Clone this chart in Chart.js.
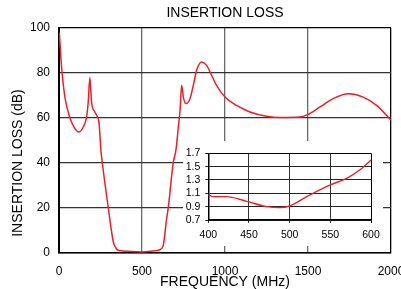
<!DOCTYPE html>
<html>
<head>
<meta charset="utf-8">
<script src="https://cdn.jsdelivr.net/npm/chart.js@4/dist/chart.umd.min.js"></script>
<style>
    body { margin: 0; background: #fff; }
    #wrap { position: relative; width: 401px; height: 289px; }
    #mainChart { position: absolute; left: 0; top: 0; }
    #insetChart { position: absolute; left: 183px; top: 141px; background: #fff; }
</style>
</head>
<body>
<div id="wrap">
    <canvas id="mainChart" width="401" height="289"></canvas>
    <canvas id="insetChart" width="200" height="105"></canvas>
</div>
<script>
var chartTitle = "INSERTION LOSS";
var xTitle = "FREQUENCY (MHz)";
var yTitle = "INSERTION LOSS (dB)";

// main sweep
var freqMHz = [2, 12, 20, 36, 66, 96, 120, 146, 166, 176, 186, 196, 216, 232, 240, 246, 252, 261, 297, 327, 345, 357, 408, 500, 580, 608, 628, 648, 658, 688, 705, 719, 729, 739, 749, 765, 789, 809, 829, 859, 889, 919, 949, 1000, 1070, 1150, 1250, 1331, 1451, 1500, 1572, 1652, 1742, 1833, 1913, 2000];
var lossDb = [98, 86, 79, 69, 60, 55.3, 53.8, 56, 60.4, 67, 78, 67, 62.7, 60.4, 58.5, 53, 46, 40, 20, 5, 2, 1.2, 0.8, 0.5, 1, 1.5, 3.4, 15, 20, 40, 46, 56, 63.4, 74.5, 69.3, 66.4, 68.6, 74.5, 81.2, 84.9, 83.4, 79, 74.5, 69.3, 65.6, 62.7, 60.8, 60.2, 60.4, 61.6, 64.9, 68.6, 70.8, 69.3, 65.6, 59];
var xTicks = [0, 500, 1000, 1500, 2000];
var yTicks = [0, 20, 40, 60, 80, 100];

// passband zoom
var insetFreq = [400, 406, 422, 447, 472, 488, 500, 521, 550, 570, 586, 600];
var insetLoss = [1.075, 1.05, 1.05, 0.98, 0.9, 0.885, 0.91, 1.05, 1.225, 1.325, 1.45, 1.6];
var insetXTicks = [400, 450, 500, 550, 600];
var insetYTicks = [0.7, 0.9, 1.1, 1.3, 1.5, 1.7];

var fontFamily = "'Liberation Sans', Arial, Helvetica, sans-serif";
var lineRed = "#e8202a";

function toPoints(xs, ys) {
    var pts = [];
    for (var i = 0; i < xs.length; i++) {
        pts.push({ x: xs[i], y: ys[i] });
    }
    return pts;
}

function fixedTicks(values) {
    return function (scale) {
        scale.ticks = values.map(function (v) { return { value: v }; });
    };
}

function plainLabel(v) {
    return String(v);
}

var yTitlePlugin = {
    id: "yTitle",
    afterDraw: function (chart) {
        var ctx = chart.ctx;
        ctx.save();
        ctx.translate(18, 163);
        ctx.rotate(-Math.PI / 2);
        ctx.font = "14px " + fontFamily;
        ctx.fillStyle = "#000";
        ctx.textAlign = "center";
        ctx.textBaseline = "middle";
        ctx.fillText(yTitle, 0, 0);
        ctx.restore();
    }
};

function CreateMainChart() {
    var context = document.getElementById("mainChart");
    return new Chart(context, {
        type: "line",
        data: {
            datasets: [{
                data: toPoints(freqMHz, lossDb),
                borderColor: lineRed,
                borderWidth: 1.5,
                pointRadius: 0,
                cubicInterpolationMode: "monotone",
                fill: false
            }]
        },
        options: {
            responsive: false,
            animation: false,
            layout: { padding: { left: 0, right: 10, top: 0, bottom: 0 } },
            plugins: {
                legend: { display: false },
                tooltip: { enabled: false },
                title: {
                    display: true,
                    text: chartTitle,
                    fullSize: false,
                    color: "#000",
                    font: { family: fontFamily, size: 14, weight: "normal" },
                    padding: { top: 5, bottom: 6.2 }
                }
            },
            scales: {
                x: {
                    type: "linear",
                    min: 0,
                    max: 2000,
                    afterBuildTicks: fixedTicks(xTicks),
                    afterFit: function (s) {
                        s.height = 36;
                        s.paddingLeft = 0;
                        s.paddingRight = 0;
                    },
                    grid: {
                        drawTicks: false,
                        lineWidth: 1.3,
                        color: function (c) { return c.tick && c.tick.value === 2000 ? "#000" : "#6a6a6a"; }
                    },
                    border: { color: "#000", width: 1.5 },
                    ticks: {
                        color: "#000",
                        padding: 11,
                        maxRotation: 0,
                        autoSkip: false,
                        font: { family: fontFamily, size: 12 },
                        callback: plainLabel
                    },
                    title: {
                        display: true,
                        text: xTitle,
                        color: "#000",
                        font: { family: fontFamily, size: 14, lineHeight: 1 },
                        padding: 0
                    }
                },
                y: {
                    min: 0,
                    max: 100,
                    afterBuildTicks: fixedTicks(yTicks),
                    afterFit: function (s) {
                        s.width = 59;
                        s.paddingTop = 0;
                        s.paddingBottom = 0;
                    },
                    grid: {
                        drawTicks: false,
                        lineWidth: 1.3,
                        color: function (c) { return c.tick && c.tick.value === 100 ? "#000" : "#333"; }
                    },
                    border: { color: "#000", width: 2 },
                    ticks: {
                        color: "#000",
                        padding: 9,
                        autoSkip: false,
                        font: { family: fontFamily, size: 12 },
                        callback: plainLabel
                    }
                }
            }
        },
        plugins: [yTitlePlugin]
    });
}

function CreateInsetChart() {
    var context = document.getElementById("insetChart");
    return new Chart(context, {
        type: "line",
        data: {
            datasets: [{
                data: toPoints(insetFreq, insetLoss),
                borderColor: lineRed,
                borderWidth: 1.4,
                pointRadius: 0,
                cubicInterpolationMode: "monotone",
                fill: false
            }]
        },
        options: {
            responsive: false,
            animation: false,
            layout: { padding: { left: 0, right: 12, top: 12.3, bottom: 0 } },
            plugins: {
                legend: { display: false },
                tooltip: { enabled: false },
                title: { display: false }
            },
            scales: {
                x: {
                    type: "linear",
                    min: 400,
                    max: 600,
                    afterBuildTicks: fixedTicks(insetXTicks),
                    afterFit: function (s) {
                        s.height = 26;
                        s.paddingLeft = 0;
                        s.paddingRight = 0;
                    },
                    grid: {
                        tickLength: 3,
                        lineWidth: 1,
                        color: function (c) { return c.tick && c.tick.value === 600 ? "#000" : "#333"; }
                    },
                    border: { color: "#000", width: 1.5 },
                    ticks: {
                        color: "#000",
                        padding: 6,
                        maxRotation: 0,
                        autoSkip: false,
                        font: { family: fontFamily, size: 10.5 },
                        callback: plainLabel
                    }
                },
                y: {
                    min: 0.7,
                    max: 1.7,
                    afterBuildTicks: fixedTicks(insetYTicks),
                    afterFit: function (s) {
                        s.width = 25.3;
                        s.paddingTop = 0;
                        s.paddingBottom = 0;
                    },
                    grid: {
                        tickLength: 3,
                        lineWidth: 1,
                        color: function (c) { return c.tick && c.tick.value === 1.7 ? "#000" : "#222"; }
                    },
                    border: { color: "#000", width: 1.5 },
                    ticks: {
                        color: "#000",
                        padding: 5,
                        autoSkip: false,
                        font: { family: fontFamily, size: 10.5 },
                        callback: function (v) { return Number(v).toFixed(1); }
                    }
                }
            }
        }
    });
}

CreateMainChart();
CreateInsetChart();
</script>
</body>
</html>
